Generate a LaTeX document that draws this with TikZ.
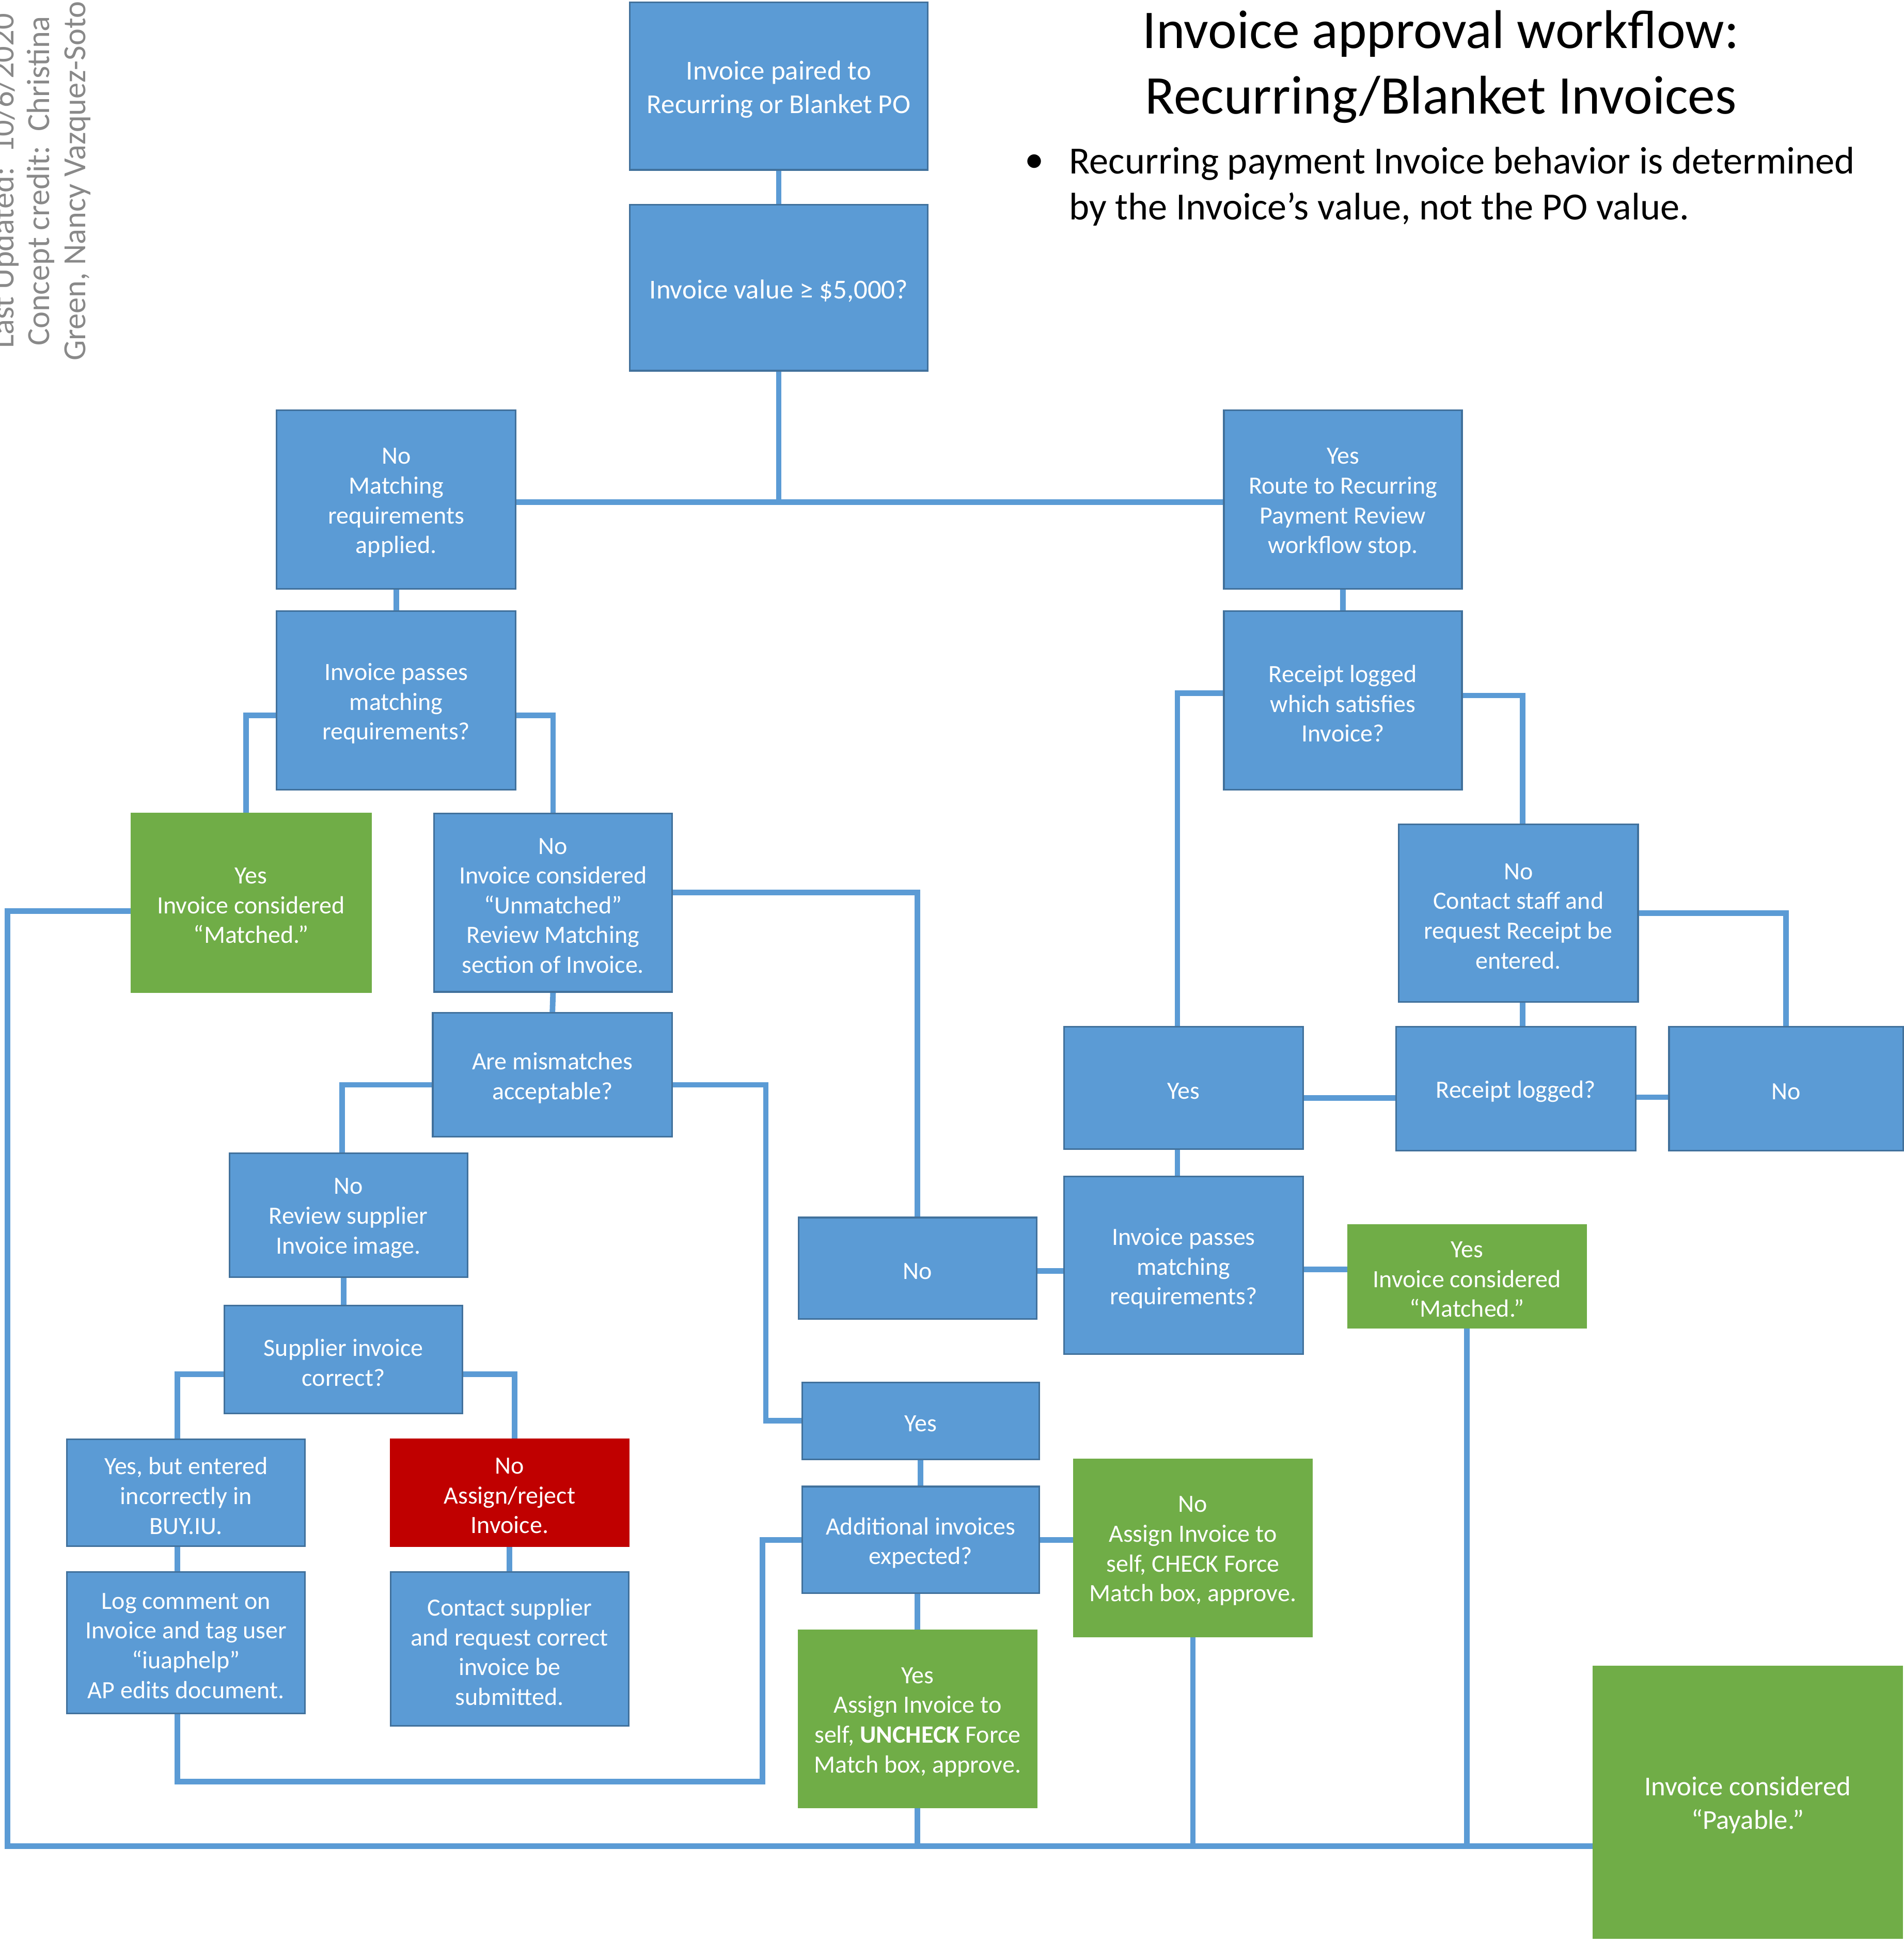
\documentclass[tikz,border=0pt]{standalone}
\usepackage{fontspec}
\setmainfont{Carlito}
\usetikzlibrary{backgrounds}
\definecolor{boxblue}{HTML}{5B9BD5}
\definecolor{boxedge}{HTML}{41719C}
\definecolor{boxgreen}{HTML}{70AD47}
\definecolor{boxred}{HTML}{C00000}
\definecolor{credgray}{HTML}{898989}
\tikzset{
  bluebox/.style={draw=boxedge, fill=boxblue, line width=1.3pt, inner sep=0pt},
  greenbox/.style={bluebox, draw=boxgreen, fill=boxgreen},
  redbox/.style={bluebox, draw=boxred, fill=boxred},
  btext/.style={text=white, align=center, inner sep=0pt, font=\fontsize{20}{24}\selectfont},
  bigtext/.style={btext, font=\fontsize{22}{27}\selectfont},
  conn/.style={draw=boxblue, line width=4.5pt, line join=miter}
}
\newcommand\mkbox[8]{\node[#6, minimum width={(#4-#2)*1pt}, minimum height={(#5-#3)*1pt}, label={[#7, yshift=-2.5pt]center:{#8}}] (#1) at ({(#2+#4)/2},{(#3+#5)/2}) {};}
\begin{document}
\begin{tikzpicture}[x=1pt,y=-1pt]
\useasboundingbox (0,0) rectangle (1535.5,1568);

% credit and title
\node[rotate=90, text=credgray, align=center, inner sep=0pt, font=\fontsize{26}{29}\selectfont] (credit) at (33,146) {Last Updated:\ \ 10/6/2020\\Concept credit:\ \ Christina\\Green, Nancy Vazquez-Soto};
\node[align=center, inner sep=0pt, font=\fontsize{44}{53}\selectfont] (title) at (1162,54) {Invoice approval workflow:\\Recurring/Blanket Invoices};
\node[inner sep=0pt, font=\fontsize{31}{37}\selectfont] (bul) at (834,132) {•};
\node[anchor=west, align=left, inner sep=0pt, font=\fontsize{31}{37}\selectfont] (note) at (862,150.5) {Recurring payment Invoice behavior is determined\\by the Invoice’s value, not the PO value.};

% boxes
\mkbox{B1}{508}{2}{748}{137}{bluebox}{bigtext}{Invoice paired to\\Recurring or Blanket PO}
\mkbox{B2}{508}{165}{748}{299}{bluebox}{bigtext}{Invoice value ≥ \$5,000?}
\mkbox{B3}{223}{331}{416}{475}{bluebox}{btext}{No\\Matching\\requirements\\applied.}
\mkbox{B4}{987}{331}{1179}{475}{bluebox}{btext}{Yes\\Route to Recurring\\Payment Review\\workflow stop.}
\mkbox{B5}{223}{493}{416}{637}{bluebox}{btext}{Invoice passes\\matching\\requirements?}
\mkbox{B6}{987}{493}{1179}{637}{bluebox}{btext}{Receipt logged\\which satisfies\\Invoice?}
\mkbox{B7}{106}{656}{299}{800}{greenbox}{btext}{Yes\\Invoice considered\\“Matched.”}
\mkbox{B8}{350}{656}{542}{800}{bluebox}{btext}{No\\Invoice considered\\“Unmatched”\\Review Matching\\section of Invoice.}
\mkbox{B9}{349}{817}{542}{917}{bluebox}{btext}{Are mismatches\\acceptable?}
\mkbox{B10}{1128}{665}{1321}{808}{bluebox}{btext}{No\\Contact staff and\\request Receipt be\\entered.}
\mkbox{B11}{858}{828}{1051}{927}{bluebox}{btext}{Yes}
\mkbox{B12}{1126}{828}{1319}{928}{bluebox}{btext}{Receipt logged?}
\mkbox{B13}{1346}{828}{1535}{928}{bluebox}{btext}{No}
\mkbox{B14}{185}{930}{377}{1030}{bluebox}{btext}{No\\Review supplier\\Invoice image.}
\mkbox{B15}{644}{982}{836}{1064}{bluebox}{btext}{No}
\mkbox{B16}{858}{949}{1051}{1092}{bluebox}{btext}{Invoice passes\\matching\\requirements?}
\mkbox{B17}{1087}{988}{1279}{1071}{greenbox}{btext}{Yes\\Invoice considered\\“Matched.”}
\mkbox{B18}{181}{1053}{373}{1140}{bluebox}{btext}{Supplier invoice\\correct?}
\mkbox{B19}{54}{1161}{246}{1247}{bluebox}{btext}{Yes, but entered\\incorrectly in\\BUY.IU.}
\mkbox{B20}{315}{1161}{507}{1247}{redbox}{btext}{No\\Assign/reject\\Invoice.}
\mkbox{B21}{647}{1115}{838}{1177}{bluebox}{btext}{Yes}
\mkbox{B22}{647}{1199}{838}{1285}{bluebox}{btext}{Additional invoices\\expected?}
\mkbox{B23}{866}{1177}{1058}{1320}{greenbox}{btext}{No\\Assign Invoice to\\self, CHECK Force\\Match box, approve.}
\mkbox{B24}{54}{1268}{246}{1382}{bluebox}{btext}{Log comment on\\Invoice and tag user\\“iuaphelp”\\AP edits document.}
\mkbox{B25}{315}{1268}{507}{1392}{bluebox}{btext}{Contact supplier\\and request correct\\invoice be\\submitted.}
\mkbox{B26}{644}{1315}{836}{1458}{greenbox}{btext}{Yes\\Assign Invoice to\\self, \textbf{UNCHECK} Force\\Match box, approve.}
\mkbox{B27}{1285}{1344}{1534}{1563}{greenbox}{bigtext}{Invoice considered\\“Payable.”}

\coordinate (jTop) at (628,405);
\coordinate (jBL) at (6,1489);
\coordinate (jL) at (615,1437);

\begin{scope}[on background layer]
\fill[white] (0,0) rectangle (1535.5,1568);
\draw[conn] (B1.south) -- (B2.north);
\draw[conn] ([yshift=-2pt]B3.east) -- ([yshift=-2pt]B4.west);
\draw[conn] (B2.south) -- (jTop);
\draw[conn] (B3.south) -- (B5.north);
\draw[conn] (B4.south) -- (B6.north);
\draw[conn] ([yshift=-12pt]B5.west) -| ([xshift=-4pt]B7.north);
\draw[conn] ([yshift=-12pt]B5.east) -| (B8.north);
\draw[conn] ([yshift=-7pt]B7.west) -| (jBL) -- (B27.west |- jBL);
\draw[conn] ([yshift=8pt]B8.east) -| (B15.north);
\draw[conn] (B8.south) -- (B9.north);
\draw[conn] ([yshift=-8pt]B9.west) -| ([xshift=-5pt]B14.north);
\draw[conn] ([yshift=-8pt]B9.east) -- ++(75,0) |- (B21.west);
\draw[conn] (B18.north) -- (B18.north |- B14.south);
\draw[conn] ([yshift=-12pt]B18.west) -| ([xshift=-7pt]B19.north);
\draw[conn] ([yshift=-12pt]B18.east) -| ([xshift=4pt]B20.north);
\draw[conn] ([xshift=-7pt]B19.south) -- ([xshift=-7pt]B24.north);
\draw[conn] (B20.south) -- (B25.north);
\draw[conn] ([xshift=-7pt]B24.south) |- (jL) |- (B22.west);
\draw[conn] (B21.south) -- (B22.north);
\draw[conn] (B22.east) -- (B22.east -| B23.west);
\draw[conn] (B26.north) -- (B26.north |- B22.south);
\draw[conn] (B26.south) -- (B26.south |- jBL);
\draw[conn] (B23.south) -- (B23.south |- jBL);
\draw[conn] (B17.south) -- (B17.south |- jBL);
\draw[conn] ([yshift=6pt]B6.west) -| ([xshift=-5pt]B11.north);
\draw[conn] ([yshift=4pt]B6.east) -| ([xshift=3.5pt]B10.north);
\draw[conn] (B10.east) -| (B13.north);
\draw[conn] ([xshift=3.5pt]B10.south) -- ([xshift=3.5pt]B10.south |- B12.north);
\draw[conn] ([yshift=-8pt]B11.east) -- ([yshift=-8pt]B11.east -| B12.west);
\draw[conn] ([yshift=-7pt]B12.east) -- ([yshift=-7pt]B12.east -| B13.west);
\draw[conn] ([xshift=-5pt]B11.south) -- ([xshift=-5pt]B11.south |- B16.north);
\draw[conn] ([yshift=-2pt]B15.east) -- ([yshift=-2pt]B15.east -| B16.west);
\draw[conn] ([yshift=-3.5pt]B16.east) -- ([yshift=-3.5pt]B16.east -| B17.west);
\end{scope}
\end{tikzpicture}
\end{document}
